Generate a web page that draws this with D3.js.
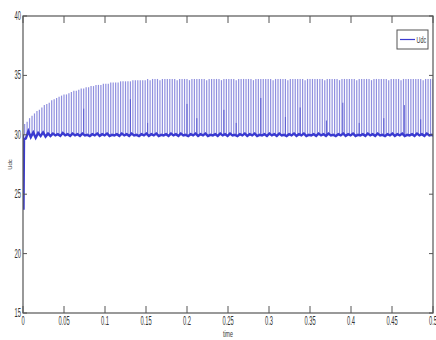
<!DOCTYPE html>
<html>
<head>
<meta charset="utf-8">
<script src="https://cdn.jsdelivr.net/npm/d3@7"></script>
<style>
  body { margin: 0; background: #fff; }
  text { font-family: "Liberation Sans Narrow", "Liberation Sans", sans-serif; fill: #333; }
</style>
</head>
<body>
<svg id="chart" width="436" height="340"></svg>
<script>
// axis ticks
const xTicks = [0, 0.05, 0.1, 0.15, 0.2, 0.25, 0.3, 0.35, 0.4, 0.45, 0.5];
const xTickLabels = ['0', '0.05', '0.1', '0.15', '0.2', '0.25', '0.3', '0.35', '0.4', '0.45', '0.5'];
const yTicks = [15, 20, 25, 30, 35, 40];
const yTickLabels = ['15', '20', '25', '30', '35', '40'];

// Udc spikes, one every spikeStep seconds starting at spikeStart
const spikeStart = 0.002;
const spikeStep = 0.003;
const spikePeaks = [
  30.9, 31.1, 31.4, 31.6, 31.8, 32.0, 32.1, 32.3, 32.5, 32.6,
  32.7, 32.9, 33.0, 33.1, 33.2, 33.3, 33.4, 33.4, 33.5, 33.6,
  33.7, 33.7, 33.8, 33.9, 33.9, 34.0, 34.0, 34.1, 34.1, 34.2,
  34.2, 34.2, 34.3, 34.3, 34.3, 34.4, 34.4, 34.4, 34.4, 34.5,
  34.5, 34.5, 34.5, 34.5, 34.6, 34.6, 34.6, 34.6, 34.6, 34.6,
  34.7, 34.6, 34.7, 34.7, 34.7, 34.6, 34.7, 34.7, 34.7, 34.7,
  34.7, 34.7, 34.6, 34.7, 34.7, 34.7, 34.7, 34.6, 34.7, 34.7,
  34.7, 34.7, 34.7, 34.7, 34.6, 34.7, 34.7, 34.7, 34.7, 34.7,
  34.6, 34.7, 34.7, 34.7, 34.7, 34.7, 34.6, 34.7, 34.7, 34.7,
  34.7, 34.7, 34.7, 34.6, 34.7, 34.7, 34.7, 34.7, 34.7, 34.7,
  34.7, 34.6, 34.7, 34.7, 34.7, 34.7, 34.7, 34.6, 34.7, 34.7,
  34.7, 34.7, 34.7, 34.7, 34.6, 34.7, 34.7, 34.7, 34.7, 34.7,
  34.7, 34.7, 34.6, 34.7, 34.7, 34.7, 34.7, 34.7, 34.6, 34.7,
  34.7, 34.7, 34.7, 34.7, 34.7, 34.6, 34.7, 34.7, 34.7, 34.7,
  34.7, 34.6, 34.7, 34.7, 34.7, 34.7, 34.7, 34.7, 34.6, 34.7,
  34.7, 34.7, 34.7, 34.6, 34.7, 34.7, 34.7, 34.7, 34.7, 34.7,
  34.7, 34.7, 34.6, 34.7, 34.7, 34.7, 34.7
];

// ripple of Udc around 30 V, one sample between each pair of spikes
const baseValues = [
  29.7, 30.3, 29.8, 30.2, 29.75, 30.15, 29.9, 30.2, 29.85, 30.1,
  29.9, 30.1, 29.95, 30.05, 29.9, 30.15, 29.95, 30.05, 29.9, 30.1,
  29.95, 30.05, 29.9, 30.1, 29.95, 30.0, 29.9, 30.05, 29.95, 30.1,
  29.9, 30.05, 29.95, 30.1, 29.9, 30.0, 29.95, 30.05, 29.9, 30.1,
  29.95, 30.05, 29.9, 30.1, 29.95, 30.0, 29.9, 30.05, 29.95, 30.1,
  29.9, 30.05, 29.95, 30.1, 29.9, 30.0, 29.95, 30.05, 29.9, 30.1,
  29.95, 30.05, 29.9, 30.1, 29.95, 30.0, 29.9, 30.05, 29.95, 30.1,
  29.9, 30.05, 29.95, 30.1, 29.9, 30.0, 29.95, 30.05, 29.9, 30.1,
  29.95, 30.05, 29.9, 30.1, 29.95, 30.0, 29.9, 30.05, 29.95, 30.1,
  29.9, 30.05, 29.95, 30.1, 29.9, 30.0, 29.95, 30.05, 29.9, 30.1,
  29.95, 30.05, 29.9, 30.1, 29.95, 30.0, 29.9, 30.05, 29.95, 30.1,
  29.9, 30.05, 29.95, 30.1, 29.9, 30.0, 29.95, 30.05, 29.9, 30.1,
  29.95, 30.05, 29.9, 30.1, 29.95, 30.0, 29.9, 30.05, 29.95, 30.1,
  29.9, 30.05, 29.95, 30.1, 29.9, 30.0, 29.95, 30.05, 29.9, 30.1,
  29.95, 30.05, 29.9, 30.1, 29.95, 30.0, 29.9, 30.05, 29.95, 30.1,
  29.9, 30.05, 29.95, 30.1, 29.9, 30.0, 29.95, 30.05, 29.9, 30.1,
  29.95, 30.05, 29.9, 30.1, 29.95, 30.0, 29.9
];

// start-up dip at t = 0
const dipTimes = [0, 0.0006, 0.0012];
const dipValues = [30.0, 23.7, 29.6];

// darker partial spikes visible in the trace
const darkTimes = [0.074, 0.131, 0.152, 0.2, 0.212, 0.245, 0.26, 0.29, 0.32, 0.338, 0.37, 0.39, 0.41, 0.44, 0.465, 0.485];
const darkValues = [32.2, 33.0, 31.0, 32.6, 31.4, 32.1, 31.0, 33.1, 31.5, 32.3, 31.2, 32.7, 31.0, 31.4, 32.5, 31.3];

const seriesName = 'Udc';
const xLabel = 'time';
const yLabel = 'Udc';

const margin = { top: 16, right: 3, bottom: 27, left: 23 };
const width = 436;
const height = 340;
const plotW = width - margin.left - margin.right;
const plotH = height - margin.top - margin.bottom;

const svg = d3.select('#chart');
const g = svg.append('g').attr('transform', `translate(${margin.left},${margin.top})`);

const x = d3.scaleLinear().domain([0, 0.5]).range([0, plotW]);
const y = d3.scaleLinear().domain([15, 40]).range([plotH, 0]);

// squeezed MATLAB-ish text
function squished(parent, px, py, str, size, sx, anchor) {
  parent.append('g')
    .attr('transform', `translate(${px},${py}) scale(${sx},1)`)
    .append('text')
    .attr('text-anchor', anchor)
    .attr('font-size', size + 'px')
    .text(str);
}

const clip = g.append('defs').append('clipPath').attr('id', 'plotclip');
clip.append('rect').attr('width', plotW).attr('height', plotH);
const plot = g.append('g').attr('clip-path', 'url(#plotclip)');

const spikes = spikePeaks.map((v, i) => ({ t: spikeStart + i * spikeStep, v }));

// pale spikes
plot.append('g')
  .selectAll('line')
  .data(spikes)
  .join('line')
  .attr('x1', (d) => x(d.t))
  .attr('x2', (d) => x(d.t))
  .attr('y1', y(30))
  .attr('y2', (d) => y(d.v))
  .attr('stroke', '#8f8fdf')
  .attr('stroke-width', 1.2);

// darker partial spikes
plot.append('g')
  .selectAll('line')
  .data(darkTimes.map((t, i) => ({ t, v: darkValues[i] })))
  .join('line')
  .attr('x1', (d) => x(d.t))
  .attr('x2', (d) => x(d.t))
  .attr('y1', y(30))
  .attr('y2', (d) => y(d.v))
  .attr('stroke', '#5c5cd2')
  .attr('stroke-width', 1);

// ripple band around 30
const base = dipTimes.map((t, i) => ({ t, v: dipValues[i] }))
  .concat(baseValues.map((v, i) => ({ t: spikeStart + spikeStep / 2 + i * spikeStep, v })));

const line = d3.line()
  .x((d) => x(d.t))
  .y((d) => y(d.v));

plot.append('path')
  .datum(base)
  .attr('fill', 'none')
  .attr('stroke', '#3a3ad0')
  .attr('stroke-width', 2.4)
  .attr('d', line);

// box
const axisColor = '#555';
g.append('rect')
  .attr('width', plotW)
  .attr('height', plotH)
  .attr('fill', 'none')
  .attr('stroke', axisColor)
  .attr('stroke-width', 1.2);

// inward ticks on all four sides
const xt = 7;
const yt = 4;
g.append('g').selectAll('line').data(xTicks).join('line')
  .attr('x1', (d) => x(d)).attr('x2', (d) => x(d))
  .attr('y1', plotH).attr('y2', plotH - xt)
  .attr('stroke', axisColor);
g.append('g').selectAll('line').data(xTicks).join('line')
  .attr('x1', (d) => x(d)).attr('x2', (d) => x(d))
  .attr('y1', 0).attr('y2', xt)
  .attr('stroke', axisColor);
g.append('g').selectAll('line').data(yTicks).join('line')
  .attr('x1', 0).attr('x2', yt)
  .attr('y1', (d) => y(d)).attr('y2', (d) => y(d))
  .attr('stroke', axisColor);
g.append('g').selectAll('line').data(yTicks).join('line')
  .attr('x1', plotW).attr('x2', plotW - yt)
  .attr('y1', (d) => y(d)).attr('y2', (d) => y(d))
  .attr('stroke', axisColor);

// tick labels
xTicks.forEach((d, i) => squished(g, x(d), plotH + 12, xTickLabels[i], 12, 0.48, 'middle'));
yTicks.forEach((d, i) => squished(g, -2, y(d) + 4, yTickLabels[i], 12, 0.48, 'end'));

// axis labels
squished(g, plotW / 2, plotH + 24, xLabel, 9, 0.6, 'middle');
g.append('text')
  .attr('transform', `translate(${-11},${y(27.5)}) rotate(-90)`)
  .attr('text-anchor', 'middle')
  .attr('font-size', '6px')
  .text(yLabel);

// legend
const legend = g.append('g').attr('transform', `translate(${plotW - 36},${14})`);
legend.append('rect')
  .attr('width', 31)
  .attr('height', 19)
  .attr('fill', '#fff')
  .attr('stroke', axisColor);
legend.append('line')
  .attr('x1', 3).attr('x2', 18)
  .attr('y1', 9.5).attr('y2', 9.5)
  .attr('stroke', '#3b3bd0')
  .attr('stroke-width', 1.2);
squished(legend, 19.5, 12.5, seriesName, 9, 0.6, 'start');
</script>
</body>
</html>
